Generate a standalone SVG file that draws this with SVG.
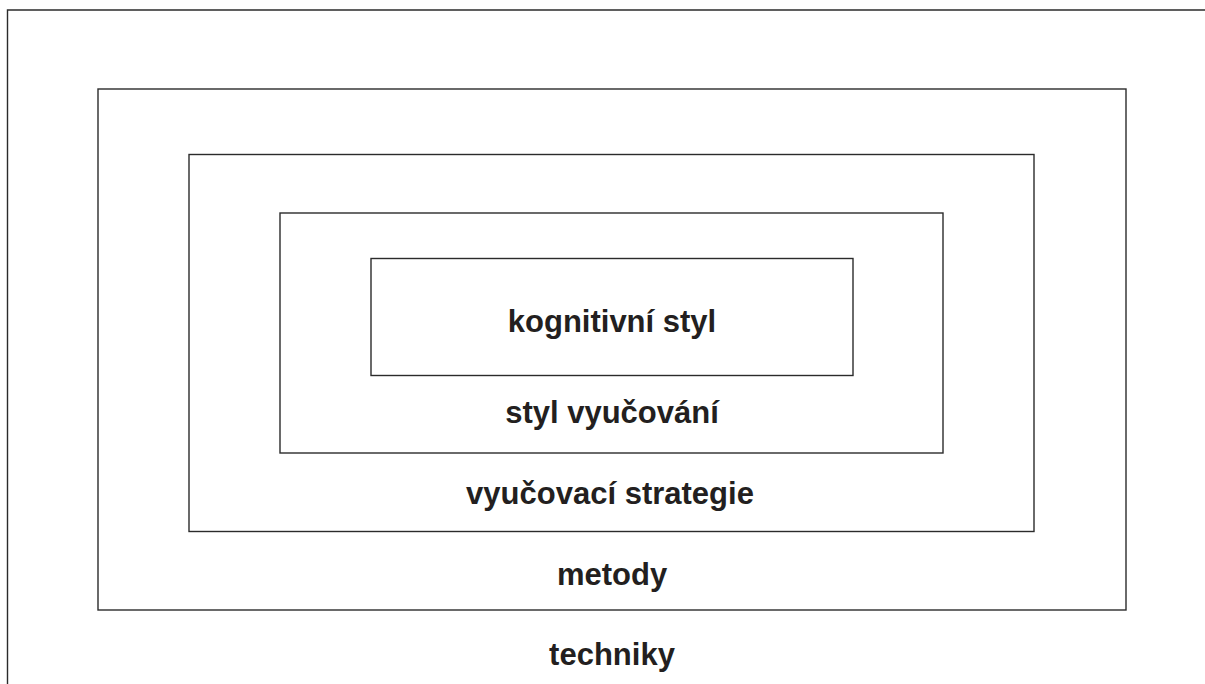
<svg xmlns="http://www.w3.org/2000/svg" width="1205" height="684" viewBox="0 0 1205 684">
<style>
.box{fill:none;stroke:#2b2b2b;stroke-width:1.4}
.lbl{font-family:"Liberation Sans",Arial,Helvetica,sans-serif;font-weight:bold;font-size:31px;fill:#231f20;text-anchor:middle}
</style>
<rect width="1205" height="684" fill="#ffffff"/>
<g id="techniky">
<path class="box" d="M7.5,684 V10 H1205"/>
<text class="lbl" x="612" y="665">techniky</text>
</g>
<g id="metody">
<rect class="box" x="98" y="89" width="1028" height="521"/>
<text class="lbl" x="612" y="585">metody</text>
</g>
<g id="strategie">
<rect class="box" x="189" y="154.5" width="845" height="377"/>
<text class="lbl" x="610" y="504">vyučovací strategie</text>
</g>
<g id="styl-vyucovani">
<rect class="box" x="280" y="213" width="663" height="240"/>
<text class="lbl" x="612" y="423">styl vyučování</text>
</g>
<g id="kognitivni-styl">
<rect class="box" x="371" y="258.5" width="482" height="117"/>
<text class="lbl" x="612" y="332">kognitivní styl</text>
</g>
<g id="connectors"></g>
</svg>
